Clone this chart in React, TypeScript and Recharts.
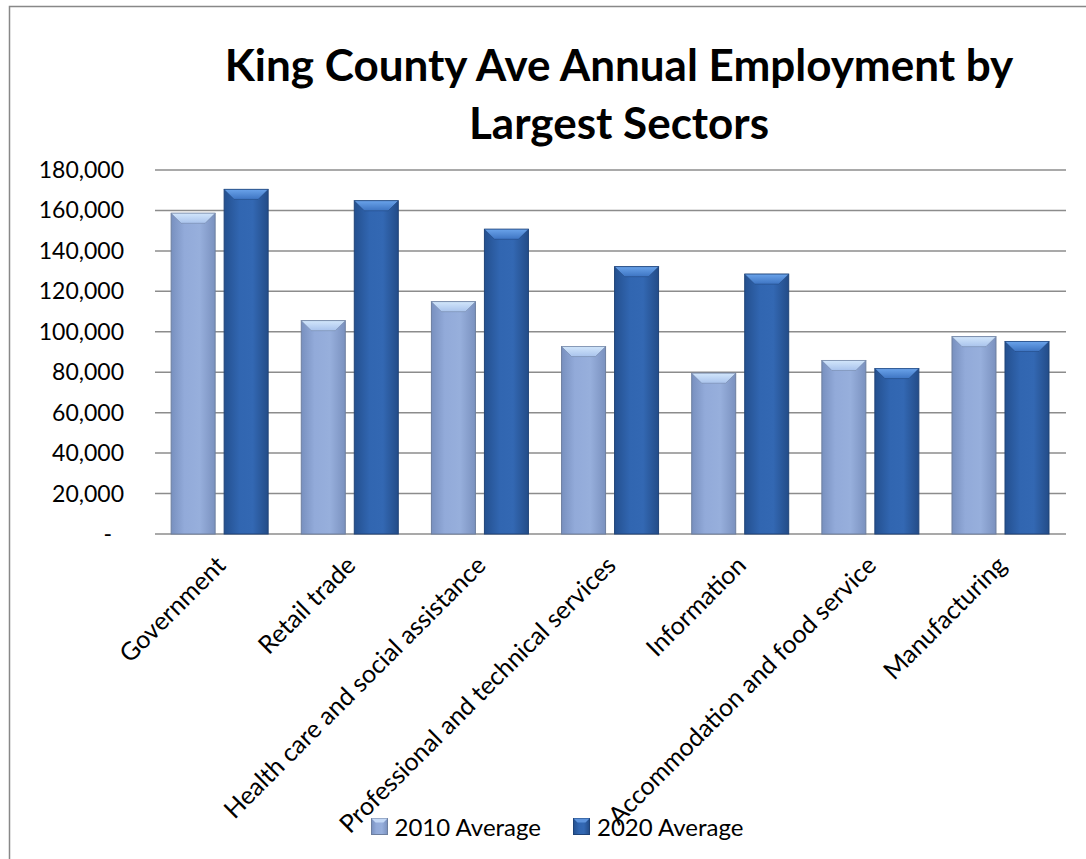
import { BarChart, Bar, XAxis, YAxis, CartesianGrid, Legend } from 'recharts'

const sectors = [
  'Government',
  'Retail trade',
  'Health care and social assistance',
  'Professional and technical services',
  'Information',
  'Accommodation and food service',
  'Manufacturing'
]
const avg2010 = [158600, 105500, 114900, 92700, 79500, 85800, 97600]
const avg2020 = [170400, 164800, 150700, 132200, 128500, 81800, 95200]
const yTicks = [0, 20000, 40000, 60000, 80000, 100000, 120000, 140000, 160000, 180000]
const seriesNames = ['2010 Average', '2020 Average']

const data = sectors.map((name, i) => ({
  name,
  a2010: avg2010[i],
  a2020: avg2020[i]
}))

const FONT = 'Lato, "Open Sans", sans-serif'

const makeBar = (body: string, bevel: string, stroke: string) => (props: any) => {
  const { x, y, width, height } = props
  if (!height || height <= 0) return null
  const b = Math.min(10, height / 2)
  return (
    <g>
      <rect x={x} y={y} width={width} height={height} fill={`url(#${body})`} stroke={stroke} strokeWidth={1} />
      <polygon
        points={`${x},${y} ${x + width},${y} ${x + width - b},${y + b} ${x + b},${y + b}`}
        fill={`url(#${bevel})`}
        stroke={stroke}
        strokeWidth={0.5}
      />
    </g>
  )
}

const Bar2010 = makeBar('body2010', 'bevel2010', '#6d7f9f')
const Bar2020 = makeBar('body2020', 'bevel2020', '#1f4378')

const YTick = (props: any) => {
  const { x, y, payload } = props
  const zero = payload.value === 0
  return (
    <text
      x={zero ? x - 12 : x}
      y={y}
      dy={8}
      textAnchor="end"
      fontFamily={FONT}
      fontSize={23}
      fill="#000"
    >
      {zero ? '-' : payload.value.toLocaleString('en-US')}
    </text>
  )
}

const XTick = (props: any) => {
  const { x, y, payload } = props
  const tx = x + 7
  const ty = y + 25
  return (
    <text
      x={tx}
      y={ty}
      transform={`rotate(-45, ${tx}, ${ty})`}
      textAnchor="end"
      fontFamily={FONT}
      fontSize={25}
      fill="#000"
    >
      {payload.value}
    </text>
  )
}

const LegendContent = () => (
  <div style={{ display: 'flex', justifyContent: 'center', alignItems: 'center', fontFamily: FONT, fontSize: 24, color: '#000' }}>
    {seriesNames.map((s, i) => (
      <div key={s} style={{ display: 'flex', alignItems: 'center', marginRight: i === 0 ? 32 : 0 }}>
        <svg width={17} height={17} style={{ marginRight: 7 }}>
          <rect x={0.5} y={0.5} width={16} height={16} fill={i === 0 ? 'url(#body2010)' : 'url(#body2020)'} stroke={i === 0 ? '#6d7f9f' : '#1f4378'} />
          <polygon points="0.5,0.5 16.5,0.5 12.5,4.5 4.5,4.5" fill={i === 0 ? '#c3d8f6' : '#5d93dc'} />
        </svg>
        <span>{s}</span>
      </div>
    ))}
  </div>
)

export default function App() {
  return (
    <div style={{ position: 'absolute', left: 0, top: 0, width: 1086, height: 859, overflow: 'hidden', background: '#fff' }}>
      <BarChart
        width={1086}
        height={859}
        data={data}
        margin={{ top: 170, right: 20, left: 10, bottom: 0 }}
        barCategoryGap="12.4%"
        barGap={9}
      >
        <defs>
          <linearGradient id="body2010" x1="0" y1="0" x2="1" y2="0">
            <stop offset="0%" stopColor="#7890bf" />
            <stop offset="30%" stopColor="#92aad9" />
            <stop offset="65%" stopColor="#97afdc" />
            <stop offset="100%" stopColor="#7a91bf" />
          </linearGradient>
          <linearGradient id="bevel2010" x1="0" y1="0" x2="0" y2="1">
            <stop offset="0%" stopColor="#d2e6fb" />
            <stop offset="100%" stopColor="#a9c3ec" />
          </linearGradient>
          <linearGradient id="body2020" x1="0" y1="0" x2="1" y2="0">
            <stop offset="0%" stopColor="#24508f" />
            <stop offset="35%" stopColor="#3166b1" />
            <stop offset="65%" stopColor="#3368b3" />
            <stop offset="100%" stopColor="#234c88" />
          </linearGradient>
          <linearGradient id="bevel2020" x1="0" y1="0" x2="0" y2="1">
            <stop offset="0%" stopColor="#6aa3ea" />
            <stop offset="100%" stopColor="#3d74c2" />
          </linearGradient>
        </defs>
        <CartesianGrid vertical={false} stroke="#8c8c8c" strokeWidth={1.5} />
        <XAxis
          dataKey="name"
          interval={0}
          height={325}
          axisLine={false}
          tickLine={false}
          tick={<XTick />}
        />
        <YAxis
          domain={[0, 180000]}
          ticks={yTicks}
          width={145}
          axisLine={false}
          tickLine={false}
          tickSize={0}
          tickMargin={31}
          tick={<YTick />}
        />
        <Legend
          verticalAlign="middle"
          align="center"
          wrapperStyle={{ top: 812, left: 14, width: 1086 }}
          content={<LegendContent />}
        />
        <Bar dataKey="a2010" name={seriesNames[0]} shape={Bar2010} isAnimationActive={false} />
        <Bar dataKey="a2020" name={seriesNames[1]} shape={Bar2020} isAnimationActive={false} />
      </BarChart>
      <svg width={1086} height={859} style={{ position: 'absolute', left: 0, top: 0, pointerEvents: 'none' }}>
        <polyline points="9.5,859 9.5,6.5 1086,6.5" fill="none" stroke="#888" strokeWidth={1.5} />
        <text x={619} y={81} textAnchor="middle" fontFamily={FONT} fontWeight={700} fontSize={44} fill="#000">
          King County Ave Annual Employment by
        </text>
        <text x={619} y={139} textAnchor="middle" fontFamily={FONT} fontWeight={700} fontSize={44} fill="#000">
          Largest Sectors
        </text>
      </svg>
    </div>
  )
}
